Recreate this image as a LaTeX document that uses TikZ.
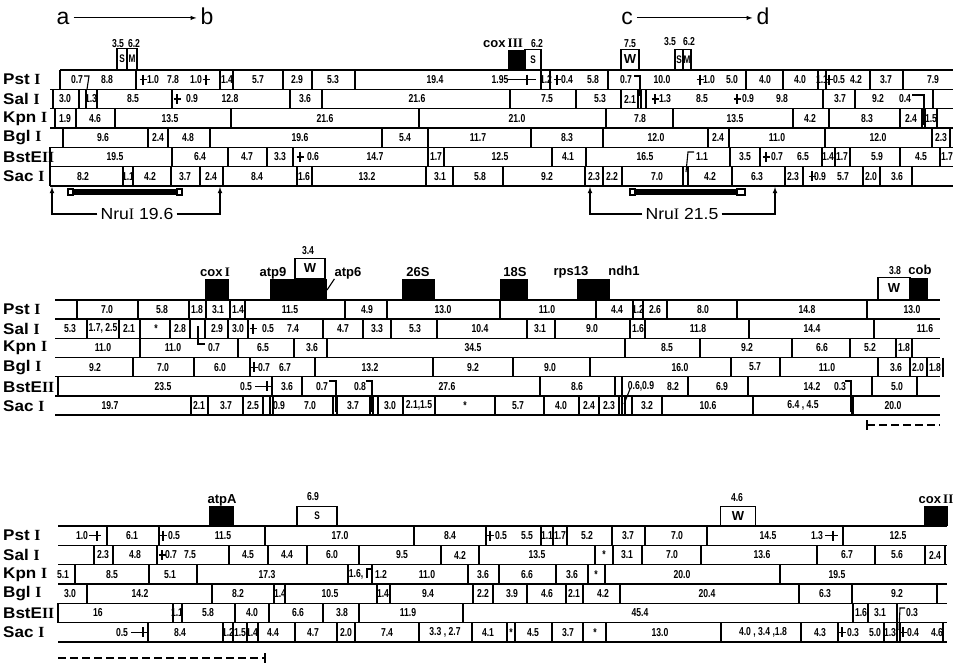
\documentclass[tikz,border=0pt]{standalone}
\usepackage{fontspec}
\setmainfont{Liberation Sans}[FakeStretch=0.75]
\newfontfamily\wideface{Liberation Sans}
\newfontfamily\enzface{Liberation Sans}[FakeStretch=1.1]
\newfontfamily\romface{Liberation Serif}
\newcommand{\RN}[1]{{\romface #1}}
\newcommand{\fragrow}[3]{%
  \foreach \cx in {#2} {\draw[cut] (\cx,#1) -- (\cx,#1+\rh);}
  \foreach \lx/\lt in {#3} {\node[frag] at (\lx,#1+\rh/2) {\lt};}}
\newcommand{\cuttick}[2]{\draw[cut] (#1-3.5,#2) -- (#1+3.5,#2) (#1,#2-5) -- (#1,#2+5);}

\tikzset{
  rowline/.style={line width=1.5pt},
  cut/.style={line width=1.1pt},
  frag/.style={font=\bfseries\fontsize{11.5}{11.5}\selectfont, inner sep=0pt},
  enz/.style={font=\enzface\bfseries\fontsize{15.5}{15.5}\selectfont, anchor=west, inner sep=0pt},
  size/.style={font=\bfseries\fontsize{11.5}{11.5}\selectfont, inner sep=0pt, anchor=base},
  genelab/.style={font=\wideface\bfseries\fontsize{13}{13}\selectfont, inner sep=0pt, anchor=base},
  tbox/.style={draw, line width=1.1pt, fill=white, inner sep=0pt, anchor=south,
    font=\bfseries\fontsize{11}{11}\selectfont},
  trna/.style={tbox, font=\wideface\bfseries\fontsize{13}{13}\selectfont},
  head/.style={font=\wideface\fontsize{23}{23}\selectfont, inner sep=4pt, anchor=base},
  nru/.style={font=\enzface\fontsize{16}{16}\selectfont, inner sep=3pt},
  dashline/.style={line width=1.5pt, dash pattern=on 8pt off 4pt}
}

\begin{document}
\begin{tikzpicture}[x=1pt,y=-1pt]
\useasboundingbox (0,0) rectangle (962,662);

\node[head] (a) at (63,24) {a};
\node[head] (b) at (207,24) {b};
\draw[-latex, line width=1pt] (a.east) -- (a.east -| b.west);
\node[head] (c) at (627,24) {c};
\node[head] (d) at (763,24) {d};
\draw[-latex, line width=1pt] (c.east) -- (c.east -| d.west);

\foreach \dy in {0,229.9,456}
  \foreach \k/\en in {0/{Pst \RN{I}},1/{Sal \RN{I}},2/{Kpn \RN{I}},3/{Bgl \RN{I}},4/{BstE\RN{II}},5/{Sac \RN{I}}}
    \node[enz] at (3,79.7+\dy+19.3*\k) {\en};

\draw[rowline] (60,70) -- (953,70);
\foreach \y in {89.33,108.67,128,147.33,166.67,186} \draw[rowline] (50,\y) -- (953,\y);
\def\rh{19.33}
\fragrow{70}{60,136,220,233,283,312,355,541,550,608,746,783,818,826,870,903}{77/0.7,107/8.8,153/1.0,173/7.8,196/1.0,227/1.4,258/5.7,297/2.9,333/5.3,435/19.4,500/1.95,546/1.2,567/0.4,593/5.8,626/0.7,662/10.0,709/1.0,732/5.0,765/4.0,800/4.0,822/1.1,839/0.5,856/4.2,886/3.7,933/7.9}
\fragrow{89.33}{53,79,86,97,172,290,322,510,576,621,638,641,646,823,855,933}{65/3.0,91/1.3,133/8.5,192/0.9,230/12.8,305/3.6,417/21.6,547/7.5,600/5.3,630/2.1,665/1.3,702/8.5,748/0.9,782/9.8,840/3.7,878/9.2,905/0.4}
\fragrow{108.67}{55,76,115,231,419,606,673,793,829,900,922,925,937}{65/1.9,95/4.6,170/13.5,325/21.6,517/21.0,640/7.8,735/13.5,810/4.2,867/8.3,911/2.4,931/1.5}
\fragrow{128}{63,148,168,210,382,428,531,603,708,729,825,932,950}{103/9.6,158/2.4,188/4.8,300/19.6,405/5.4,478/11.7,567/8.3,656/12.0,718/2.4,777/11.0,878/12.0,941/2.3}
\fragrow{147.33}{50,172,228,267,293,428,444,552,586,730,760,822,835,850,900,940}{115/19.5,200/6.4,247/4.7,280/3.3,313/0.6,375/14.7,436/1.7,500/12.5,568/4.1,645/16.5,702/1.1,745/3.5,777/0.7,803/6.5,828/1.4,842/1.7,877/5.9,921/4.5,947/1.7}
\fragrow{166.67}{50,123,133,171,200,223,297,312,426,453,503,585,603,622,683,688,732,785,803,863,880,912}{83/8.2,128/1.1,150/4.2,185/3.7,211/2.4,257/8.4,304/1.6,367/13.2,440/3.1,480/5.8,547/9.2,594/2.3,612/2.2,657/7.0,710/4.2,757/6.3,793/2.3,820/0.9,843/5.7,871/2.0,897/3.6}
\foreach \tx/\ty in {143/79.7,206/79.7,527/79.7,557/79.7,700/79.7,829/79.7,177/99,655/99,737/99,300/157,766/157,812/176.3} \cuttick{\tx}{\ty}
\draw[cut] (508,79.7) -- (536,79.7);
\draw[cut] (84,76) -- (89,76) -- (87,89.33);
\draw[cut] (634,76) -- (640,76) -- (640,96);
\draw[cut] (912,95) -- (924,95) -- (924,125);
\draw[cut] (694,152) -- (688,152) -- (686,172);

\node[size] at (118,47) {3.5};
\node[size] at (134,47) {6.2};
\node[tbox, minimum width=10, minimum height=21] (sm1) at (122,70) {S};
\node[tbox, minimum width=10, minimum height=21] (mm1) at (132,70) {M};
\fill (508,50) rectangle (525,70);
\node[genelab] (cox3) at (503,47) {cox\,\RN{III}};
\node[tbox, minimum width=16, minimum height=20] (sm2) at (533,70) {S};
\node[size] at (537,47) {6.2};
\node[trna, minimum width=18, minimum height=20] (wt1) at (630,70) {W};
\node[size] at (630,47) {7.5};
\node[tbox, minimum width=8, minimum height=20] (sm3) at (679,70) {S};
\node[tbox, minimum width=8, minimum height=20] (mm3) at (687,70) {M};
\node[size] at (670,45) {3.5};
\node[size] at (689,45) {6.2};

\fill (73,189) rectangle (177,195);
\draw[cut, fill=white] (68,189) rectangle (73,195) (177,189) rectangle (182,195);
\node[nru] (nru1) at (137,214) {Nru\RN{I} 19.6};
\coordinate (nru1l) at (52,187);
\coordinate (nru1r) at (220,187);
\draw[cut, -latex] (nru1.west) -| (nru1l);
\draw[cut, -latex] (nru1.east) -| (nru1r);
\fill (635,189) rectangle (737,195);
\draw[cut, fill=white] (630,189) rectangle (635,195) (737,189) rectangle (745,195);
\node[nru] (nru2) at (682,214) {Nru\RN{I} 21.5};
\coordinate (nru2l) at (590,187);
\coordinate (nru2r) at (775,187);
\draw[cut, -latex] (nru2.west) -| (nru2l);
\draw[cut, -latex] (nru2.east) -| (nru2r);

\foreach \y in {300,319.17,338.33,357.5,376.67,395.83,415} \draw[rowline] (55,\y) -- (940,\y);
\def\rh{19.17}
\fragrow{300}{77,138,189,206,230,245,345,387,500,596,633,643,667,737,867}{107/7.0,162/5.8,197/1.8,218/3.1,238/1.4,290/11.5,367/4.9,443/13.0,547/11.0,617/4.4,638/1.2,655/2.6,703/8.0,807/14.8,912/13.0}
\fragrow{319.17}{87,119,140,170,190,205,228,248,323,363,391,437,527,555,630,645,749,874}{70/5.3,103/{1.7, 2.5},129/2.1,156/*,180/2.8,217/2.9,238/3.0,268/0.5,293/7.4,343/4.7,377/3.3,415/5.3,480/10.4,540/3.1,592/9.0,638/1.6,698/11.8,812/14.4,925/11.6}
\fragrow{338.33}{140,238,294,327,625,700,792,850,896,912}{103/11.0,173/11.0,214/0.7,263/6.5,312/3.6,473/34.5,667/8.5,747/9.2,822/6.6,870/5.2,904/1.8}
\fragrow{357.5}{133,194,250,315,433,513,590,731,780,878,910,927,943}{95/9.2,163/7.0,220/6.0,264/0.7,285/6.7,370/13.2,473/9.2,550/9.0,680/16.0,755/5.7,827/11.0,896/3.6,918/2.0,935/1.8}
\fragrow{376.67}{58,272,302,540,615,622,688,748,872,917}{163/23.5,246/0.5,287/3.6,322/0.7,360/0.8,447/27.6,577/8.6,641/{0.6,0.9},673/8.2,722/6.9,812/14.2,840/0.3,897/5.0}
\fragrow{395.83}{191,208,243,263,270,273,333,337,370,373,378,403,435,495,544,579,599,619,622,625,632,662,753,853}{110/19.7,199/2.1,226/3.7,253/2.5,279/0.9,310/7.0,353/3.7,390/3.0,419/{2.1,1.5},465/*,518/5.7,561/4.0,589/2.4,609/2.3,647/3.2,708/10.6,803/{6.4 , 4.5},893/20.0}
\foreach \tx/\ty in {253/328.8,254/367.1,267/386.3} \cuttick{\tx}{\ty}
\draw[cut] (255,386.3) -- (270,386.3);
\draw[line width=2.5pt] (852,396) -- (852,415);
\draw[cut] (198,326) -- (198,344) -- (205,344);
\draw[cut] (329,381) -- (336,381) -- (336,412);
\draw[cut] (366,381) -- (372,381) -- (372,412);
\draw[cut] (845,381) -- (851,381) -- (851,412);
\draw[cut] (630,389) -- (624,404);
\draw[cut] (867,420) -- (867,430);
\draw[dashline] (867,425) -- (940,425);

\fill (205,279) rectangle (229,300);
\node[genelab] (cox1) at (215,276) {cox\,\RN{I}};
\fill (270,279) rectangle (327,300);
\node[genelab] (atp9) at (273,276) {atp9};
\node[trna, minimum width=30, minimum height=20] (wt2) at (310,279) {W};
\node[size] at (308,254) {3.4};
\node[genelab] (atp6) at (348,276) {atp6};
\draw[cut] (atp6.south west) -- (327,290);
\fill (402,279) rectangle (435,300);
\node[genelab] (r26) at (418,276) {26S};
\fill (500,279) rectangle (528,300);
\node[genelab] (r18) at (515,276) {18S};
\fill (577,279) rectangle (610,300);
\node[genelab] (rps) at (571,275) {rps13};
\node[genelab] (ndh) at (624,275) {ndh1};
\node[trna, minimum width=32, minimum height=22] (wt3) at (894,300) {W};
\fill (910,278) rectangle (928,300);
\node[size] at (895,274) {3.8};
\node[genelab] (cob) at (920,274) {cob};

\foreach \y in {526,545.33,564.67,584,603.33,622.67,642} \draw[rowline] (58,\y) -- (947,\y);
\def\rh{19.33}
\fragrow{526}{107,159,265,414,486,541,553,567,612,645,707,843}{82/1.0,132/6.1,174/0.5,223/11.5,340/17.0,450/8.4,501/0.5,527/5.5,547/1.1,560/1.7,587/5.2,628/3.7,677/7.0,768/14.5,817/1.3,898/12.5}
\fragrow{545.33}{94,113,157,229,268,307,359,441,479,595,613,642,701,817,875,925,945}{103/2.3,135/4.8,171/0.7,190/7.5,248/4.5,287/4.4,332/6.0,402/9.5,460/4.2,537/13.5,604/*,627/3.1,672/7.0,762/13.6,847/6.7,897/5.6,935/2.4}
\fragrow{564.67}{75,149,197,348,372,468,499,556,588,605,780}{63/5.1,112/8.5,170/5.1,267/17.3,356/{1.6,},381/1.2,427/11.0,483/3.6,527/6.6,572/3.6,596/*,682/20.0,837/19.5}
\fragrow{584}{87,212,274,285,377,390,473,493,527,566,583,620,799,852,937}{70/3.0,140/14.2,238/8.2,280/1.4,330/10.5,383/1.4,428/9.4,483/2.2,512/3.9,547/4.6,574/2.1,603/4.2,707/20.4,825/6.3,897/9.2}
\fragrow{603.33}{58,173,182,235,269,323,359,463,853,868,897}{98/16,177/1.1,208/5.8,252/4.0,298/6.6,342/3.8,408/11.9,640/45.4,861/1.6,880/3.1,912/0.3}
\fragrow{622.67}{148,223,233,247,258,295,337,355,419,472,507,515,552,583,606,721,801,838,884,897,900,943}{122/0.5,180/8.4,228/1.2,240/1.5,252/1.4,273/4.4,313/4.7,346/2.0,387/7.4,445/{3.3 , 2.7},488/4.1,511/*,533/4.5,568/3.7,595/*,660/13.0,763/{4.0 , 3.4 ,1.8},820/4.3,853/0.3,875/5.0,890/1.3,913/0.4,937/4.6}
\foreach \tx/\ty in {97/535.7,163/535.7,490/535.7,833/535.7,162/555,143/632.3,842/632.3,903/632.3} \cuttick{\tx}{\ty}
\draw[cut] (89,535.7) -- (100,535.7) (825,535.7) -- (838,535.7) (131,632.3) -- (143,632.3);
\draw[cut] (367,578) -- (367,569) -- (372,569);
\draw[cut] (905,608) -- (900,608) -- (899,630);
\draw[dashline] (58,658) -- (265,658);
\draw[cut] (265,653) -- (265,663);

\fill (209,506) rectangle (234,526);
\node[genelab] (atpa) at (222,503) {atpA};
\node[tbox, minimum width=40, minimum height=19] (sm4) at (317,526) {S};
\node[size] at (313,500) {6.9};
\node[trna, minimum width=35, minimum height=19] (wt4) at (738,526) {W};
\node[size] at (737,501) {4.6};
\fill (924,506) rectangle (948,526);
\node[genelab] (cox2) at (936,503) {cox\,\RN{II}};
\end{tikzpicture}
\end{document}
